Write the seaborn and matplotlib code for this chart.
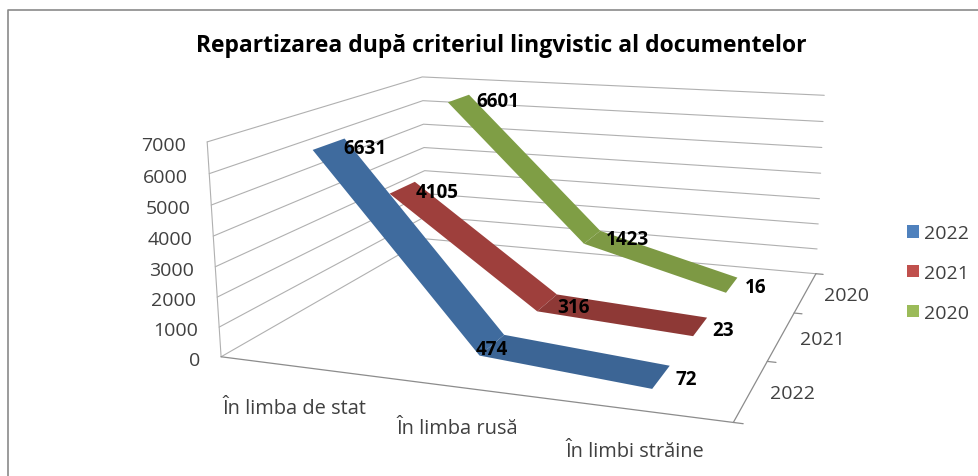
import numpy as np
import matplotlib
matplotlib.use("Agg")
import matplotlib.pyplot as plt
import seaborn as sns
from matplotlib.lines import Line2D
from matplotlib.patches import Patch
from mpl_toolkits.mplot3d import proj3d

categories = ["În limba de stat", "În limba rusă", "În limbi străine"]
series_labels = ["2022", "2021", "2020"]
values_2022 = [6631, 474, 72]
values_2021 = [4105, 316, 23]
values_2020 = [6601, 1423, 16]
z_ticks = [0, 1000, 2000, 3000, 4000, 5000, 6000, 7000]

legend_colors = ["#4F81BD", "#C0504D", "#9BBB59"]
ribbon_colors = [("#3F6B9E", "#3C6595"), ("#9E3F3C", "#8E3936"), ("#7F9E45", "#7D9944")]

sns.set_theme(style="white")
plt.rcParams["font.family"] = ["Open Sans", "DejaVu Sans"]

W, H = 979, 477
fig = plt.figure(figsize=(W / 100, H / 100), dpi=100)
side = 666.8
ax = fig.add_axes([204.6 / W, -81.9 / H, side / W, side / H], projection="3d")
ax.set_axis_off()
ax.patch.set_alpha(0)
ax.set_xlim(0, 3)
ax.set_ylim(0, 3)
ax.set_zlim(0, 7000)
ax.view_init(13.63, -70.49, 0.178)
ax.set_proj_type("persp", focal_length=0.3656)
ax.set_box_aspect((1.0528, 1, 0.4433), zoom=1)
ax.computed_zorder = False
proj = ax.get_proj()


def label_at(x, y, z, text, dx, dy, **kw):
    # offset in pixels from the projected point
    px, py, _ = proj3d.proj_transform(x, y, z, proj)
    ax.annotate(text, xy=(px, py), xytext=(dx * 0.72, dy * 0.72), textcoords="offset points",
                ha=kw.pop("ha", "center"), va="center", annotation_clip=False, **kw)


grid = "#b0b0b0"
axis = "#8c8c8c"
for z in z_ticks:
    ax.plot([0, 0, 3], [0, 3, 3], [z, z, z], color=grid, lw=0.8, zorder=1)
    label_at(0, 0, z, f"{z}", -21, -3, ha="right", fontsize=14, color="#404040", zorder=9)

ax.plot([0, 0], [0, 0], [0, 7000], color=grid, lw=0.8, zorder=1)
ax.plot([0, 3], [0, 0], [0, 0], color=axis, lw=0.9, zorder=1)
ax.plot([3, 3], [0, 3], [0, 0], color=axis, lw=0.9, zorder=1)
for y in range(4):
    ax.plot([3, 3.05], [y, y], [0, 0], color=axis, lw=0.9, zorder=1)

x_pos = np.array([0.5, 1.5, 2.5])
half = 0.2
all_values = [values_2022, values_2021, values_2020]
# label offsets per series, per category
offsets = [[(36, -4), (0, -4), (25, -2)],
           [(35, -4), (26, -4), (23, -3)],
           [(39, -3), (35, -2), (24, -2)]]

# back series first so the front ribbon covers it
for s in [2, 1, 0]:
    y_mid = s + 0.5
    X = np.array([x_pos, x_pos])
    Y = np.array([[y_mid - half] * 3, [y_mid + half] * 3])
    Z = np.array([all_values[s], all_values[s]], dtype=float)
    colors = np.array([[matplotlib.colors.to_rgba(c) for c in ribbon_colors[s]]])
    ax.plot_surface(X, Y, Z, facecolors=colors, shade=False, rstride=1, cstride=1,
                    linewidth=0, antialiased=True, zorder=3 + (2 - s))
    for i, v in enumerate(all_values[s]):
        label_at(x_pos[i], y_mid, v, f"{v}", *offsets[s][i], fontsize=13.6,
                 fontweight="bold", color="black", zorder=10)

for i, c in enumerate(categories):
    label_at(x_pos[i], 0, 0, c, -3, -41, fontsize=14.4, color="#404040", zorder=9)
for s, lab in enumerate(series_labels):
    label_at(3, s + 0.5, 0, lab, 41, -3, fontsize=14, color="#404040", zorder=9)

fig.text(501 / W, 1 - 46 / H, "Repartizarea după criteriul lingvistic al documentelor",
         ha="center", va="center", fontsize=16.5, fontweight="bold", color="black")

handles = [Patch(facecolor=c, edgecolor="none") for c in legend_colors]
fig.legend(handles, series_labels, loc="center left", bbox_to_anchor=(907 / W, 1 - 274 / H),
           frameon=False, fontsize=14, labelcolor="#404040", handlelength=0.62, handleheight=0.62,
           handletextpad=0.26, labelspacing=1.12, borderpad=0, borderaxespad=0)

# chart area border, only the top and left edges are in the crop
fig.add_artist(Line2D([8 / W, 8 / W, 1], [0, 1 - 11 / H, 1 - 11 / H], color="#8a8a8a", lw=1.2))

fig.savefig("out.png", dpi=100)
